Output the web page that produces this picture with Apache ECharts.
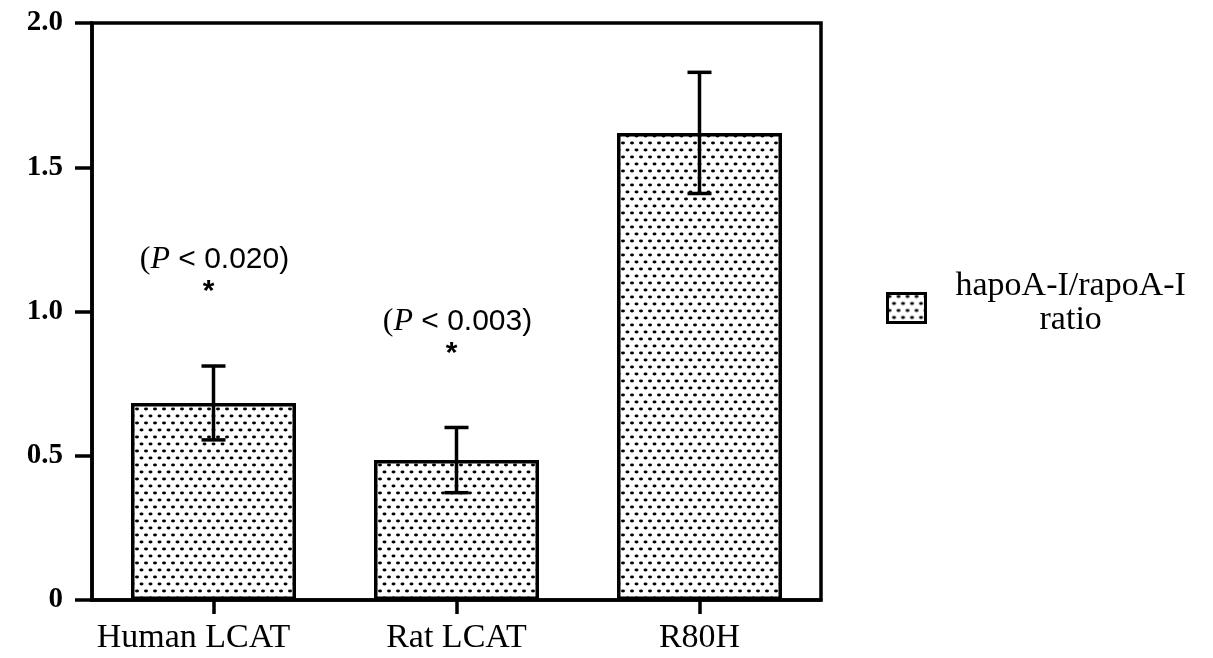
<!DOCTYPE html>
<html><head><meta charset="utf-8">
<script src="https://cdn.jsdelivr.net/npm/echarts@6/dist/echarts.min.js"></script>
<style>html,body{margin:0;padding:0;background:#fff}#c{width:1213px;height:658px}</style>
</head><body><div id="c"></div>
<script>
const categories = ['Human LCAT', 'Rat LCAT', 'R80H'];
const means = [0.683, 0.485, 1.619];
const errors = [0.128, 0.113, 0.21];
const pValues = ['0.020', '0.003', ''];
const yMin = 0, yMax = 2.0, yInterval = 0.5;
const seriesName = 'hapoA-I/rapoA-I ratio';

function makePattern() {
  const c = document.createElement('canvas');
  c.width = 9; c.height = 14;
  const g = c.getContext('2d');
  g.fillStyle = '#fff'; g.fillRect(0, 0, 9, 14);
  g.fillStyle = '#000';
  g.beginPath(); g.ellipse(2, 3, 2.0, 1.4, 0, 0, Math.PI * 2); g.fill();
  g.beginPath(); g.ellipse(6.5, 10, 2.0, 1.4, 0, 0, Math.PI * 2); g.fill();
  return c;
}
const pattern = { image: makePattern(), repeat: 'repeat' };
const serif = '"Liberation Serif", "Times New Roman", serif';
const sans = '"Liberation Sans", Arial, sans-serif';

const chart = echarts.init(document.getElementById('c'), null, { renderer: 'canvas' });
chart.setOption({
  animation: false,
  backgroundColor: '#fff',
  grid: { left: 92, right: 392, top: 23, bottom: 58, show: true, borderColor: '#000', borderWidth: 3.5, backgroundColor: 'transparent' },
  legend: {
    orient: 'vertical', left: 881, top: 264,
    itemWidth: 38, itemHeight: 29, icon: 'rect',
    itemStyle: { borderColor: '#000', borderWidth: 3 },
    formatter: () => '{a|hapoA-I/rapoA-I}\n{b|ratio}',
    textStyle: {
      padding: [0, 0, 10, 25],
      rich: {
        a: { fontFamily: serif, fontSize: 34, color: '#000', lineHeight: 34 },
        b: { fontFamily: serif, fontSize: 34, color: '#000', lineHeight: 34, align: 'center' }
      }
    },
    data: [seriesName]
  },
  xAxis: {
    type: 'category',
    data: categories.map((c, i) => i === 0 ? { value: c, textStyle: { padding: [0, 40, 0, 0] } } : c),
    axisLine: { lineStyle: { color: '#000', width: 3.5 } },
    axisTick: { show: true, alignWithLabel: true, interval: 0, length: 14, lineStyle: { color: '#000', width: 3.5 } },
    axisLabel: { show: true, interval: 0, hideOverlap: false, color: '#000', fontFamily: serif, fontSize: 34, margin: 21 },
    splitLine: { show: false }
  },
  yAxis: {
    type: 'value', min: yMin, max: yMax, interval: yInterval,
    axisLine: { show: true, lineStyle: { color: '#000', width: 3.5 } },
    axisTick: { show: true, length: 17, lineStyle: { color: '#000', width: 3.5 } },
    axisLabel: { color: '#000', fontFamily: serif, fontWeight: 'bold', fontSize: 29, margin: 29,
      formatter: v => v === 0 ? '0' : v.toFixed(1) },
    splitLine: { show: false }
  },
  series: [
    {
      name: seriesName, type: 'bar', data: means, barWidth: 165,
      itemStyle: { color: pattern, borderColor: '#000', borderWidth: 3.5 }
    },
    {
      name: 'err', type: 'custom', z: 5,
      data: means.map((m, i) => [i, m, errors[i]]),
      encode: { x: 0, y: 1 },
      renderItem: function (params, api) {
        const i = api.value(0), m = api.value(1), e = api.value(2);
        const top = api.coord([i, m + e]);
        const bot = api.coord([i, m - e]);
        const hw = 12;
        const st = { stroke: '#000', lineWidth: 3.5 };
        const children = [
          { type: 'line', shape: { x1: top[0], y1: top[1], x2: bot[0], y2: bot[1] }, style: st },
          { type: 'line', shape: { x1: top[0] - hw, y1: top[1], x2: top[0] + hw, y2: top[1] }, style: st },
          { type: 'line', shape: { x1: bot[0] - hw, y1: bot[1], x2: bot[0] + hw, y2: bot[1] }, style: st }
        ];
        const p = pValues[params.dataIndex];
        if (p) {
          children.push({ type: 'text', style: { text: '*', x: top[0] - 5, y: top[1] - 74, align: 'center', verticalAlign: 'middle',
            font: 'bold 30px ' + sans, fill: '#000' } });
          children.push({ type: 'text', style: {
            text: '{s|(}{i|P}{t| < ' + p + ')}', x: top[0] + 1, y: top[1] - 106, align: 'center', verticalAlign: 'middle',
            rich: {
              s: { fontFamily: serif, fontSize: 32, fill: '#000' },
              i: { fontFamily: serif, fontStyle: 'italic', fontSize: 32, fill: '#000' },
              t: { fontFamily: sans, fontSize: 30, fill: '#000' }
            } } });
        }
        return { type: 'group', children };
      }
    }
  ]
});
</script>
</body></html>
